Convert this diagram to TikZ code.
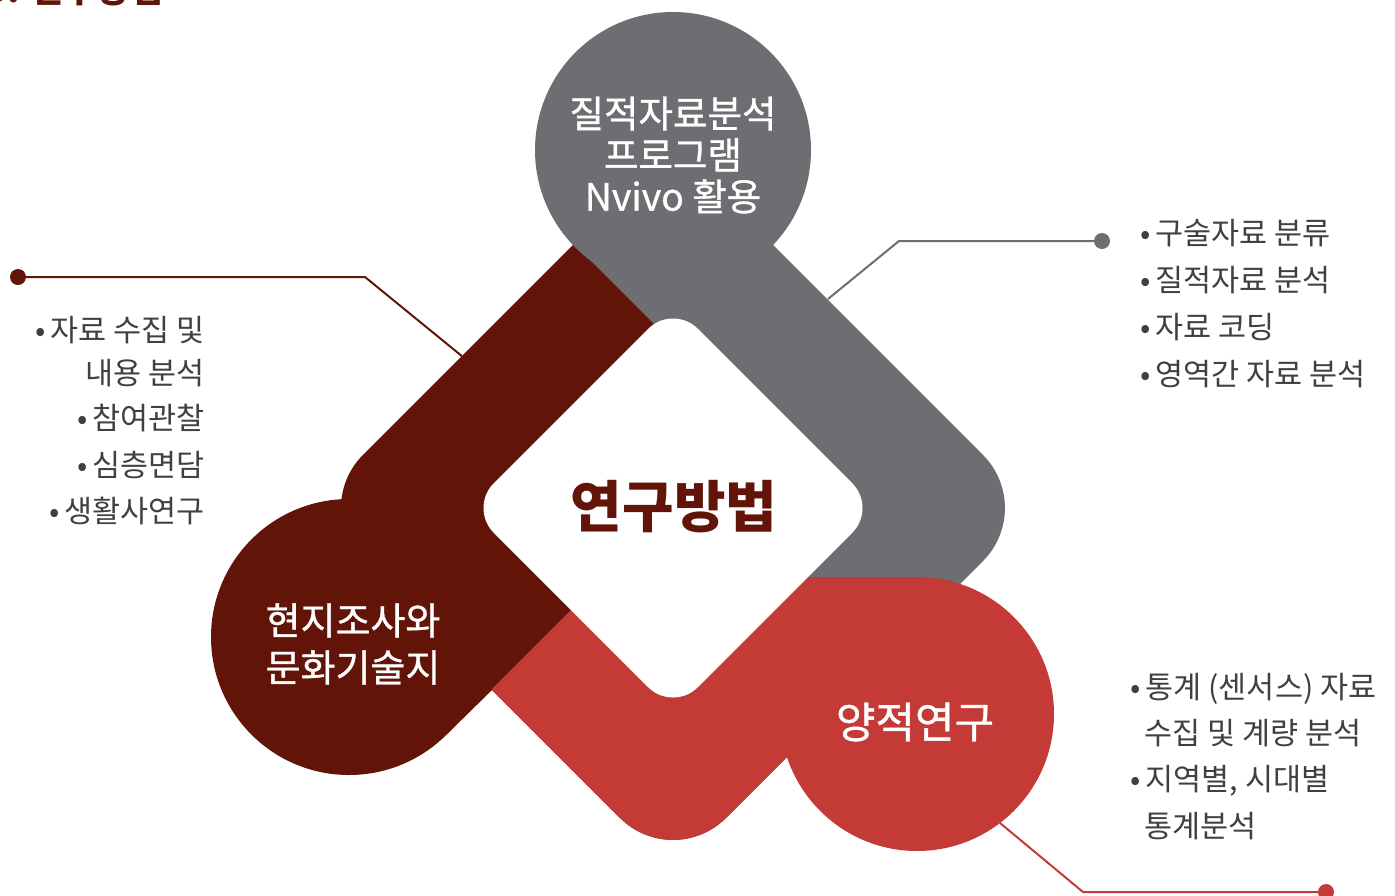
\documentclass[tikz,border=0pt]{standalone}
\usepackage{fontspec}
\setmainfont{Noto Sans CJK KR}
\newfontfamily\blobfont{Noto Sans CJK KR}[FakeBold=0.9]
\usetikzlibrary{calc,positioning}
\definecolor{maroonband}{HTML}{631409}
\definecolor{greyband}{HTML}{6D6E71}
\definecolor{redband}{HTML}{C33A36}
\definecolor{notegrey}{HTML}{404040}
\newcommand{\HubX}{673}
\newcommand{\HubY}{508}
\newcommand{\OuterHalf}{363}
\newcommand{\InnerHalf}{204}
\newcommand{\OuterRound}{75}
\newcommand{\InnerRound}{35}
\newcommand{\BlobR}{138}

\begin{document}
\begin{tikzpicture}[x=1pt,y=-1pt,
  note/.style={font=\fontsize{30.5}{36}\selectfont, text=notegrey, inner sep=0pt},
  blobtext/.style={text=white, align=center, inner sep=0pt},
  leader/.style={line width=2pt},
  enddot/.style={circle, inner sep=0pt, minimum size=16pt}
]
\useasboundingbox (0,0) rectangle (1395,895);

% ----- Leader lines -----
\coordinate (fieldBend) at (365,277);
\coordinate (fieldEdge) at (463,357);
\coordinate (qualBend) at (899,241);
\coordinate (qualEdge) at (828,299);
\coordinate (quantEdge) at (1000,823);
\coordinate (quantBend) at (1083,892);

\node[enddot, fill=maroonband] (fieldPin) at (18,277) {};
\node[enddot, fill=greyband] (qualPin) at (1102,241) {};
\node[enddot, fill=redband] (quantPin) at (1326,892) {};

\draw[leader, maroonband] (fieldPin) -- (fieldBend) -- (fieldEdge);
\draw[leader, greyband] (qualPin) -- (qualBend) -- (qualEdge);
\draw[leader, redband] (quantPin) -- (quantBend) -- (quantEdge);

% ----- Diamond ring, split in three -----
\begin{scope}
\clip[rounded corners=\OuterRound pt] (\HubX,\HubY-\OuterHalf) -- (\HubX+\OuterHalf,\HubY)
  -- (\HubX,\HubY+\OuterHalf) -- (\HubX-\OuterHalf,\HubY) -- cycle;
\fill[greyband] (0,0) rectangle (1395,895);
\fill[maroonband] (755.5,425.5) -- (330,0) -- (0,0) -- (0,1181) -- cycle;
\fill[redband] (604,577) -- (917,577) -- (917,1000) -- (181,1000) -- cycle;
\end{scope}

% ----- Circles -----
\fill[greyband] (673,150) circle[radius=\BlobR pt];
\fill[maroonband] (349,637) circle[radius=\BlobR pt];
\fill[maroonband] (349,637) -- (446.6,734.6) -- (492,690) -- (420,600) -- cycle;
\fill[redband] (917,714) circle[radius=137pt];

% ----- Hub -----
\fill[white, rounded corners=\InnerRound pt] (\HubX,\HubY-\InnerHalf) -- (\HubX+\InnerHalf,\HubY)
  -- (\HubX,\HubY+\InnerHalf) -- (\HubX-\InnerHalf,\HubY) -- cycle;
\node[font=\fontsize{56}{60}\selectfont\bfseries, text=maroonband, inner sep=0pt] (hub) at (674,507) {연구방법};

% ----- Circle labels -----
\node[blobtext, font=\blobfont\fontsize{37.5}{41.5}\selectfont] (qualText) at (673,155) {질적자료분석\\프로그램\\Nvivo 활용};
\node[blobtext, font=\blobfont\fontsize{38}{47}\selectfont] (fieldText) at (353,644) {현지조사와\\문화기술지};
\node[blobtext, font=\blobfont\fontsize{43}{48}\selectfont] (quantText) at (915,722) {양적연구};

% ----- Title (cut by the page edge) -----
\node[anchor=base west, font=\fontsize{36}{40}\selectfont\bfseries, text=maroonband, inner sep=0pt] (title) at (-15,2) {3. 연구방법};

% ----- Notes -----
\node[note, anchor=base east] (fieldA) at (205,341) {•\,자료 수집 및};
\node[note, anchor=base east] (fieldB) at (205,384) {내용 분석};
\node[note, anchor=base east] (fieldC) at (205,429) {•\,참여관찰};
\node[note, anchor=base east] (fieldD) at (205,476) {•\,심층면담};
\node[note, anchor=base east] (fieldE) at (205,522) {•\,생활사연구};

\node[note, anchor=base west] (qualA) at (1140,244) {•\,구술자료 분류};
\node[note, anchor=base west] (qualB) at (1140,291) {•\,질적자료 분석};
\node[note, anchor=base west] (qualC) at (1140,338) {•\,자료 코딩};
\node[note, anchor=base west] (qualD) at (1140,385) {•\,영역간 자료 분석};

\node[note, anchor=base west] (quantA) at (1130,698) {•\,통계 (센서스) 자료};
\node[note, anchor=base west] (quantB) at (1144,744) {수집 및 계량 분석};
\node[note, anchor=base west] (quantC) at (1130,790) {•\,지역별, 시대별};
\node[note, anchor=base west] (quantD) at (1144,837) {통계분석};

\end{tikzpicture}
\end{document}
